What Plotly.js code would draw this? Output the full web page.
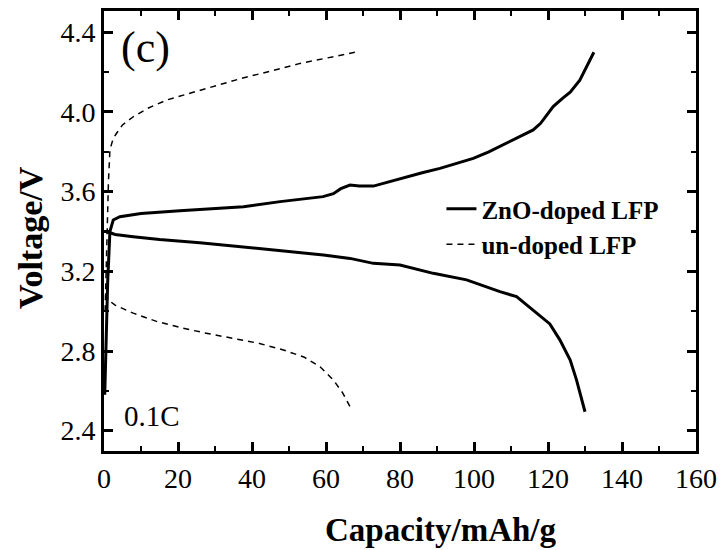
<!DOCTYPE html>
<html>
<head>
<meta charset="utf-8">
<script src="https://cdn.plot.ly/plotly-3.0.1.min.js"></script>
<style>
html,body{margin:0;padding:0;background:#fff;}
#chart{width:723px;height:550px;}
#chart svg text{font-family:'Liberation Serif','Times New Roman',serif !important;}
</style>
</head>
<body>
<div id="chart"></div>
<script>
// ZnO-doped LFP: charge and discharge (capacity mAh/g, voltage V)
const znoChargeCap = [0.2, 0.6, 1.0, 1.6, 2.5, 4.3, 10, 20.5, 30, 37.7, 47.6, 55, 59.2, 62, 64, 66.5, 69, 72.8, 77, 81.8, 86, 90.8, 95, 99.8, 104, 108.8, 112.4, 116, 118, 121.4, 124, 126, 128.6, 130.5, 132.4];
const znoChargeV   = [2.58, 2.85, 3.15, 3.40, 3.458, 3.474, 3.49, 3.504, 3.515, 3.524, 3.55, 3.565, 3.575, 3.59, 3.615, 3.633, 3.628, 3.628, 3.65, 3.675, 3.695, 3.717, 3.74, 3.767, 3.80, 3.843, 3.876, 3.91, 3.943, 4.027, 4.07, 4.10, 4.16, 4.23, 4.30];
const znoDisCap = [0.7, 3, 7.9, 15, 25.9, 35, 44, 52, 59.3, 66.5, 72.8, 80, 89, 98, 107, 111.5, 116, 120.5, 123.2, 126, 127.7, 129, 130];
const znoDisV   = [3.40, 3.385, 3.374, 3.36, 3.344, 3.328, 3.31, 3.295, 3.282, 3.265, 3.24, 3.232, 3.19, 3.157, 3.098, 3.073, 3.006, 2.936, 2.856, 2.755, 2.655, 2.57, 2.495];
// un-doped LFP: charge and discharge
const undChargeCap = [0.3, 0.6, 0.9, 1.2, 1.6, 2.5, 3.4, 5, 7.9, 12, 16.9, 26, 34.9, 37.2, 45, 53, 60, 64, 67.8];
const undChargeV   = [3.0, 3.25, 3.45, 3.65, 3.81, 3.868, 3.893, 3.935, 3.976, 4.02, 4.06, 4.11, 4.16, 4.169, 4.205, 4.244, 4.27, 4.285, 4.30];
const undDisCap = [0.4, 1.2, 3, 7.9, 14, 21.4, 28, 35, 42, 48.5, 54, 58.4, 62, 64.5, 66.5];
const undDisV   = [3.09, 3.056, 3.03, 2.99, 2.95, 2.914, 2.888, 2.864, 2.838, 2.805, 2.77, 2.721, 2.654, 2.59, 2.52];

const names = ['ZnO-doped LFP', 'un-doped LFP'];
const xTickVals = [0, 20, 40, 60, 80, 100, 120, 140, 160];
const yTickVals = [2.4, 2.8, 3.2, 3.6, 4.0, 4.4];
const yTickText = ['2.4', '2.8', '3.2', '3.6', '4.0', '4.4'];
const xTitle = 'Capacity/mAh/g';
const yTitle = 'Voltage/V';

const FONT = 'Liberation Serif';
const solid = {color: '#000', width: 3};
const dashed = {color: '#000', width: 1.5, dash: '6px,5px'};

const traces = [
  {x: znoChargeCap, y: znoChargeV, mode: 'lines', line: solid, name: names[0], legendgroup: 'a', showlegend: true},
  {x: znoDisCap, y: znoDisV, mode: 'lines', line: solid, name: names[0], legendgroup: 'a', showlegend: false},
  {x: undChargeCap, y: undChargeV, mode: 'lines', line: dashed, name: names[1], legendgroup: 'b', showlegend: true},
  {x: undDisCap, y: undDisV, mode: 'lines', line: dashed, name: names[1], legendgroup: 'b', showlegend: false}
];

const axisCommon = {
  showline: true, linecolor: '#000', linewidth: 3, mirror: 'ticks',
  ticks: 'inside', ticklen: 9, tickwidth: 3, tickcolor: '#000',
  showgrid: false, zeroline: false,
  tickfont: {family: FONT, size: 28, color: '#000'}
};

const layout = {
  width: 723, height: 550,
  margin: {l: 104, r: 27, t: 11, b: 99},
  paper_bgcolor: '#fff', plot_bgcolor: '#fff',
  xaxis: Object.assign({}, axisCommon, {
    range: [0, 160], tickvals: xTickVals,
    minor: {dtick: 10, ticks: 'inside', ticklen: 5, tickwidth: 2.5, tickcolor: '#000', showgrid: false}
  }),
  yaxis: Object.assign({}, axisCommon, {
    range: [2.298, 4.507], tickvals: yTickVals, ticktext: yTickText,
    minor: {dtick: 0.2, tick0: 2.4, ticks: 'inside', ticklen: 5, tickwidth: 2.5, tickcolor: '#000', showgrid: false}
  }),
  legend: {
    x: 0.57, y: 0.51, xanchor: 'left', yanchor: 'middle',
    bgcolor: 'rgba(0,0,0,0)', borderwidth: 0,
    font: {family: FONT, size: 25, color: '#000', weight: 'bold'},
    tracegroupgap: 0, itemwidth: 30
  },
  showlegend: true,
  annotations: [
    {text: '<b>' + xTitle + '</b>', x: 0.569, y: -0.18, xref: 'paper', yref: 'paper', xanchor: 'center', yanchor: 'middle', showarrow: false, font: {family: FONT, size: 33, color: '#000'}},
    {text: '<b>' + yTitle + '</b>', x: -0.125, y: 0.484, xref: 'paper', yref: 'paper', xanchor: 'center', yanchor: 'middle', textangle: -90, showarrow: false, font: {family: FONT, size: 34, color: '#000'}},
    {text: '(c)', x: 0.025, y: 0.918, xref: 'paper', yref: 'paper', xanchor: 'left', yanchor: 'middle', showarrow: false, font: {family: FONT, size: 44, color: '#000'}},
    {text: '0.1C', x: 0.03, y: 0.08, xref: 'paper', yref: 'paper', xanchor: 'left', yanchor: 'middle', showarrow: false, font: {family: FONT, size: 29, color: '#000'}}
  ]
};

Plotly.newPlot('chart', traces, layout, {displayModeBar: false, staticPlot: true});
</script>
</body>
</html>
